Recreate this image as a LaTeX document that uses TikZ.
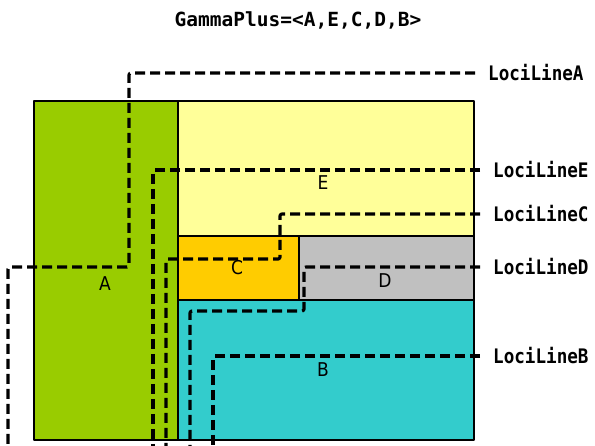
\documentclass[tikz,border=0pt]{standalone}
\usepackage{fontspec}
\setmonofont[FakeStretch=0.88]{DejaVu Sans Mono}
\setsansfont[FakeStretch=0.9]{DejaVu Sans}
\newfontfamily\titlefont{DejaVu Sans Mono}
\definecolor{colA}{HTML}{99CC00}
\definecolor{colE}{HTML}{FFFF99}
\definecolor{colC}{HTML}{FFCC00}
\definecolor{colD}{HTML}{C0C0C0}
\definecolor{colB}{HTML}{33CCCC}
\tikzset{
  blk/.style={draw,line width=2.2pt,anchor=north west,inner sep=0pt},
  letter/.style={font=\sffamily\fontsize{19}{19}\selectfont,inner sep=0pt},
  loci/.style={dashed,dash pattern=on 10pt off 5pt,line width=3.2pt,rounded corners=2pt},
  lociname/.style={anchor=west,inner xsep=13pt,inner ysep=0pt,font=\ttfamily\bfseries\fontsize{20}{20}\selectfont}
}
\begin{document}
\begin{tikzpicture}[x=1pt,y=-1pt,line join=round]
	\useasboundingbox (0,0) rectangle (595,445);
	\clip (0,0) rectangle (595,445);
	\node[font=\titlefont\bfseries\fontsize{19.5}{19.5}\selectfont] (title) at (298,20) {GammaPlus=<A,E,C,D,B>};
	% blocks
	\node[blk,fill=colA,minimum width=144pt,minimum height=339pt] (A) at (33,100) {};
	\node[blk,fill=colE,minimum width=296pt,minimum height=135pt] (E) at (177,100) {};
	\node[blk,fill=colC,minimum width=121pt,minimum height=64pt] (C) at (177,235) {};
	\node[blk,fill=colD,minimum width=175pt,minimum height=64pt] (D) at (298,235) {};
	\node[blk,fill=colB,minimum width=296pt,minimum height=140pt] (B) at (177,299) {};
	\node[letter] (tA) at (105,284) {A};
	\node[letter] (tE) at (323,183) {E};
	\node[letter] (tC) at (237,268) {C};
	\node[letter] (tD) at (385,281) {D};
	\node[letter] (tB) at (323,370) {B};
	% loci lines
	\node[lociname] (lA) at (475,73) {LociLineA};
	\node[lociname] (lE) at (480,170) {LociLineE};
	\node[lociname] (lC) at (480,214) {LociLineC};
	\node[lociname] (lD) at (480,267) {LociLineD};
	\node[lociname] (lB) at (480,356) {LociLineB};
	\coordinate (eA) at (8,450);
	\coordinate (eE) at (153,450);
	\coordinate (eC) at (166,450);
	\coordinate (eD) at (190,450);
	\coordinate (eB) at (213,450);
	\draw[loci] (lA.west) -| (129,267) -| (eA);
	\draw[loci] (lE.west) -| (eE);
	\draw[loci] (lC.west) -| (280,259) -| (eC);
	\draw[loci] (lD.west) -| (304,311) -| (eD);
	\draw[loci] (lB.west) -| (eB);
\end{tikzpicture}
\end{document}
